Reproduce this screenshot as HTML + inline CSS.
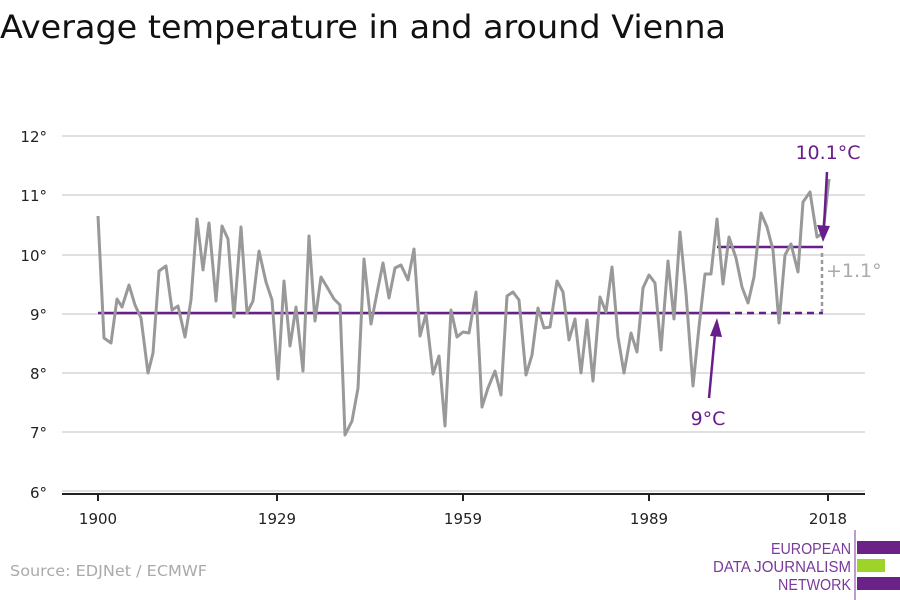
<!DOCTYPE html>
<html><head><meta charset="utf-8"><style>
html,body{margin:0;padding:0;background:#fff;width:900px;height:600px;overflow:hidden}
</style></head><body>
<svg width="900" height="600" xmlns="http://www.w3.org/2000/svg" font-family="'DejaVu Sans', 'Liberation Sans', sans-serif">
<text x="0" y="38" font-size="32" fill="#111" textLength="726" lengthAdjust="spacingAndGlyphs">Average temperature in and around Vienna</text>
<g stroke="#e0e0e0" stroke-width="2">
<line x1="62" x2="865" y1="136" y2="136"/><line x1="62" x2="865" y1="195" y2="195"/>
<line x1="62" x2="865" y1="255" y2="255"/><line x1="62" x2="865" y1="314" y2="314"/>
<line x1="62" x2="865" y1="373" y2="373"/><line x1="62" x2="865" y1="432" y2="432"/>
<line x1="62" x2="865" y1="491" y2="491"/>
</g>
<line x1="62" x2="865" y1="494" y2="494" stroke="#222" stroke-width="2"/>
<g stroke="#222" stroke-width="2">
<line x1="98" x2="98" y1="494" y2="501"/><line x1="277" x2="277" y1="494" y2="501"/>
<line x1="463" x2="463" y1="494" y2="501"/><line x1="649" x2="649" y1="494" y2="501"/>
<line x1="828" x2="828" y1="494" y2="501"/>
</g>
<g font-size="15" fill="#222" text-anchor="end">
<text x="47" y="142">12°</text><text x="47" y="201">11°</text><text x="47" y="261">10°</text>
<text x="47" y="320">9°</text><text x="47" y="379">8°</text><text x="47" y="438">7°</text><text x="47" y="498">6°</text>
</g>
<g font-size="15" fill="#222" text-anchor="middle">
<text x="98" y="524">1900</text><text x="277" y="524">1929</text><text x="463" y="524">1959</text>
<text x="649" y="524">1989</text><text x="828" y="524">2018</text>
</g>
<line x1="98" x2="723" y1="313" y2="313" stroke="#6a1e8c" stroke-width="2.5"/>
<line x1="723" x2="823" y1="313" y2="313" stroke="#6a1e8c" stroke-width="2.5" stroke-dasharray="7,5"/>
<line x1="717" x2="823" y1="247" y2="247" stroke="#6a1e8c" stroke-width="2.5"/>
<line x1="822" x2="822" y1="253" y2="312" stroke="#999" stroke-width="2.5" stroke-dasharray="4,3"/>
<text x="826" y="277" font-size="19" fill="#aaa">+1.1°</text>
<polyline fill="none" stroke="#999" stroke-width="3" stroke-linejoin="round" points="98,216 104,338 111,343 117,299 122,307 129,285 135,305 141,318 148,373 153,353 159,271 166,266 172,310 178,306 185,337 191,300 197,219 203,270 209,223 216,301 222,226 228,239 234,317 241,227 247,313 253,301 259,251 266,282 272,300 278,379 284,281 290,346 296,307 303,371 309,236 315,321 321,277 327,287 334,299 340,305 345,435 352,421 358,388 364,259 371,324 377,293 383,263 389,298 395,268 401,265 408,280 414,249 420,336 426,314 433,374 439,356 445,426 451,310 457,337 463,332 469,333 476,292 482,407 488,388 495,371 501,395 507,296 513,292 519,300 526,375 532,355 538,308 544,328 550,327 557,281 563,292 569,340 575,319 581,373 587,320 593,381 600,297 606,312 612,267 618,337 624,373 631,333 637,352 643,288 649,275 655,283 661,350 668,261 674,319 680,232 686,293 693,386 699,327 705,274 711,274 717,219 723,284 729,237 736,258 742,287 748,303 754,277 761,213 767,227 773,250 779,323 785,255 791,244 798,272 803,202 810,192 817,237 823,233 829,179"/>
<line x1="709" y1="398" x2="715" y2="334" stroke="#6a1e8c" stroke-width="2.5"/>
<polygon points="717,318 710,336 722,337" fill="#6a1e8c"/>
<text x="708" y="425" font-size="19" fill="#6a1e8c" text-anchor="middle">9°C</text>
<line x1="827" y1="172" x2="824" y2="226" stroke="#6a1e8c" stroke-width="2.5"/>
<polygon points="823,242 817,225 830,226" fill="#6a1e8c"/>
<text x="828" y="159" font-size="19" fill="#6a1e8c" text-anchor="middle">10.1°C</text>
<text x="10" y="576" font-size="15" fill="#aaa" textLength="197" lengthAdjust="spacingAndGlyphs">Source: EDJNet / ECMWF</text>
<line x1="855" x2="855" y1="530" y2="600" stroke="#7a3a9a" stroke-width="1"/>
<rect x="857" y="541" width="43" height="13" fill="#6a2288"/>
<rect x="857" y="559" width="28" height="13" fill="#9ed42a"/>
<rect x="857" y="577" width="43" height="13" fill="#6a2288"/>
<g font-size="16" fill="#7a3a9a" text-anchor="end" font-family="'Liberation Sans Narrow','Liberation Sans',sans-serif">
<text x="851" y="554" textLength="80" lengthAdjust="spacingAndGlyphs">EUROPEAN</text>
<text x="851" y="572" textLength="138" lengthAdjust="spacingAndGlyphs">DATA JOURNALISM</text>
<text x="851" y="590" textLength="73" lengthAdjust="spacingAndGlyphs">NETWORK</text>
</g>
</svg>
</body></html>
